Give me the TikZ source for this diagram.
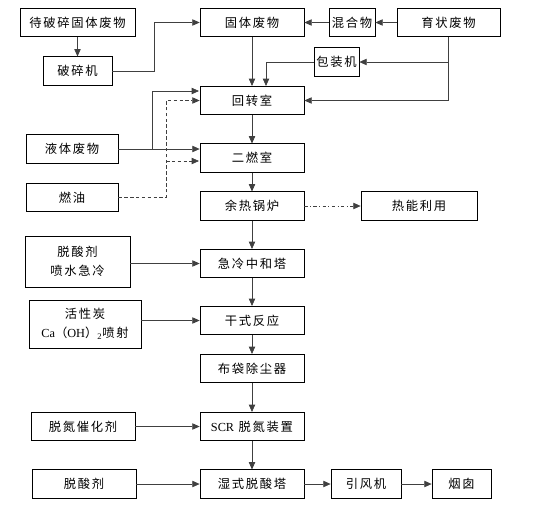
\documentclass[tikz,border=0pt]{standalone}
\usepackage{fontspec}
\setmainfont{Noto Sans CJK SC}[LetterSpace=14]
\newfontfamily\lat{Liberation Serif}
\usetikzlibrary{arrows.meta}
\begin{document}
\begin{tikzpicture}[x=0.3mm,y=-0.3mm,
  box/.style={draw, line width=0.6pt, inner sep=0pt, minimum height=8.5mm, align=center,
    font=\fontsize{10.5}{16.5}\selectfont},
  arr/.style={line width=0.6pt, black!75, -{Triangle[length=2.2mm,width=1.9mm]}},
  dsh/.style={dash pattern=on 3pt off 2pt},
  dshdot/.style={dash pattern=on 3pt off 2pt on 0.8pt off 2pt}]
\useasboundingbox (0,0) rectangle (543,511);
% top: solid waste feed
\node[box, minimum width=34.5mm] (crushin) at (77.5,22.5) {待破碎固体废物};
\node[box, minimum width=20.7mm] (crusher) at (77.5,71) {破碎机};
\node[box, minimum width=31.2mm] (solid) at (252,22.5) {固体废物};
\node[box, minimum width=13.8mm] (mix) at (352,22.5) {混合物};
\node[box, minimum width=30.9mm] (paste) at (448.5,22.5) {育状废物};
\node[box, minimum width=13.5mm] (pack) at (336.5,62) {包装机};
% furnace line
\node[box, minimum width=31.2mm] (kiln) at (252,100.5) {回转室};
\node[box, minimum width=27.6mm] (liquid) at (72,149) {液体废物};
\node[box, minimum width=31.2mm] (second) at (252,158) {二燃室};
\node[box, minimum width=27.6mm] (oil) at (72,197.5) {燃油};
\node[box, minimum width=31.2mm] (boiler) at (252,206) {余热锅炉};
\node[box, minimum width=34.8mm] (heat) at (419,206) {热能利用};
% flue gas treatment
\node[box, minimum width=31.5mm, minimum height=15.3mm] (quenchin) at (77.5,261.5) {脱酸剂\\喷水急冷};
\node[box, minimum width=31.2mm] (quench) at (252,263.5) {急冷中和塔};
\node[box, minimum width=33.6mm, minimum height=14.4mm] (carbon) at (85,324) {活性炭\\{\lat Ca}（{\lat OH}）{\lat\textsubscript{2}}喷射};
\node[box, minimum width=31.2mm] (dry) at (252,320.5) {干式反应};
\node[box, minimum width=31.2mm] (bag) at (252,368.5) {布袋除尘器};
\node[box, minimum width=31.2mm] (cat) at (83,426.5) {脱氮催化剂};
\node[box, minimum width=31.2mm] (scr) at (252,426.5) {{\lat SCR} 脱氮装置};
\node[box, minimum width=31.2mm] (acid) at (84,484) {脱酸剂};
\node[box, minimum width=31.2mm] (wet) at (252,484) {湿式脱酸塔};
\node[box, minimum width=21mm] (fan) at (366,484) {引风机};
\node[box, minimum width=17.7mm] (stack) at (461.5,484) {烟囱};
% junctions
\coordinate (c1) at (154,71);
\coordinate (k1) at (266,86);
\coordinate (l1) at (152,149);
\coordinate (k2) at (199,91);
\coordinate (o1) at (166,197.5);
\coordinate (o2) at (166,161);
\coordinate (s1) at (199,161);
% connectors
\path[draw,arr] (crushin) -- (crusher);
\path[draw,arr] (crusher) -- (c1) |- (solid);
\path[draw,arr] (mix) -- (solid);
\path[draw,arr] (paste) -- (mix);
\path[draw,arr] (solid) -- (kiln);
\path[draw,arr] (paste) |- (kiln);
\path[draw,arr] (paste.south |- pack) -- (pack);
\path[draw,arr] (pack) -| (k1);
\path[draw,arr] (liquid) -- (liquid -| second.west);
\path[draw,arr] (l1) |- (k2);
\path[draw,arr,dsh] (oil) -- (o1) |- (kiln);
\path[draw,arr,dsh] (o2) -- (s1);
\path[draw,arr] (kiln) -- (second);
\path[draw,arr] (second) -- (boiler);
\path[draw,arr,dshdot] (boiler) -- (heat);
\path[draw,arr] (boiler) -- (quench);
\path[draw,arr] (quenchin.east |- quench) -- (quench);
\path[draw,arr] (quench) -- (dry);
\path[draw,arr] (carbon.east |- dry) -- (dry);
\path[draw,arr] (dry) -- (bag);
\path[draw,arr] (bag) -- (scr);
\path[draw,arr] (cat) -- (scr);
\path[draw,arr] (scr) -- (wet);
\path[draw,arr] (acid) -- (wet);
\path[draw,arr] (wet) -- (fan);
\path[draw,arr] (fan) -- (stack);
\end{tikzpicture}
\end{document}
